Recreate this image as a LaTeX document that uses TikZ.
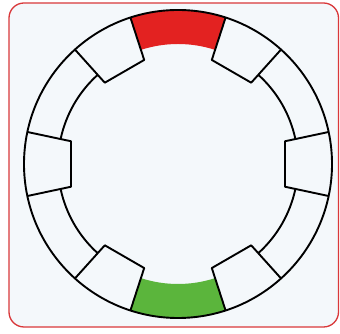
\documentclass[tikz,border=0pt]{standalone}
\usepackage{tikz}
\usetikzlibrary{calc}
\definecolor{frame_red}{RGB}{217,56,58}
\definecolor{panel_bg}{RGB}{244,248,251}
\definecolor{seg_red}{RGB}{227,34,33}
\definecolor{seg_green}{RGB}{91,181,60}
\tikzset{
frame_box/.style={draw=frame_red, line width=1.3pt, fill=panel_bg, rounded corners=15pt},
ring_line/.style={draw=black, line width=1.9pt},
box_edge/.style={draw=black, line width=1.9pt, line join=round},
}

\begin{document}
\begin{tikzpicture}[x=1pt, y=1pt]
    \useasboundingbox (0,0) rectangle (340,334);
    \fill[white] (0,0) rectangle (340,334);
    \path[frame_box] (9,7) rectangle (338.5,331);
    \begin{scope}[shift={(178,170)}]
        % coloured segments
        \fill[seg_red] (72:154) arc[start angle=72, end angle=108, radius=154] -- (108:120) arc[start angle=108, end angle=72, radius=120] -- cycle;
        \fill[seg_green] (252:154) arc[start angle=252, end angle=288, radius=154] -- (288:120) arc[start angle=288, end angle=252, radius=120] -- cycle;
        % inner ring between boxes
        \foreach \a in {12,132,192,312}
            \draw[ring_line] (\a:120) arc[start angle=\a, end angle=\a+36, radius=120];
        % boxes
        \foreach \b in {0,60,...,300}
            \draw[box_edge] (\b-12:154) -- (\b-12:109.4) -- (\b+12:109.4) -- (\b+12:154);
        \draw[ring_line] (0,0) circle[radius=154];
    \end{scope}
\end{tikzpicture}
\end{document}
